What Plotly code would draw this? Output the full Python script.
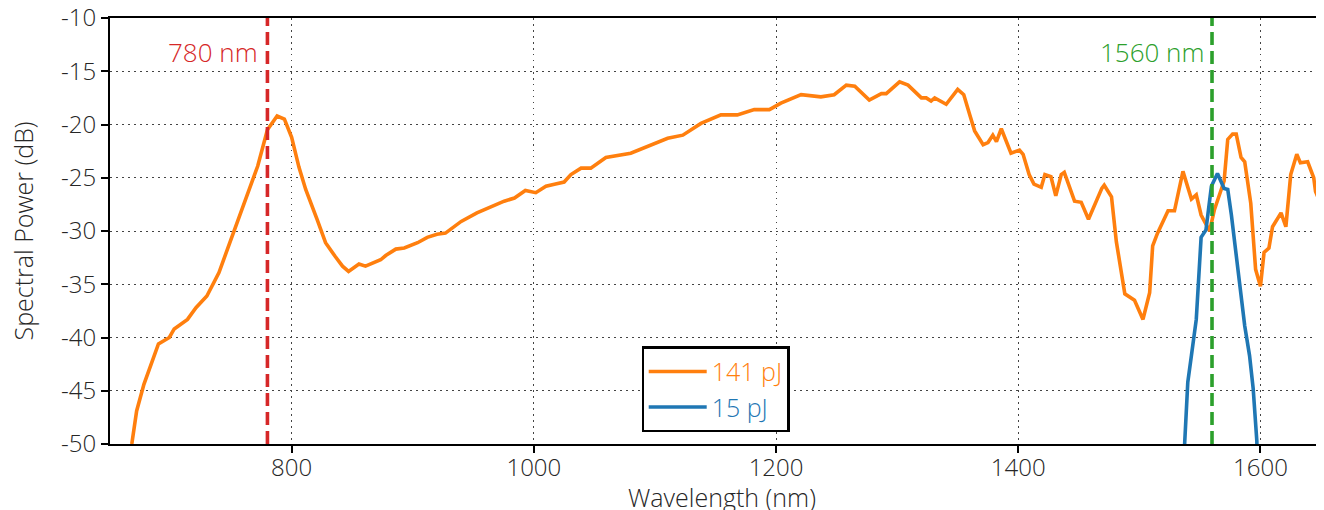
import plotly.graph_objects as go

# Orange: 141 pJ
wl_141 = [668, 672, 678, 686, 690, 699, 703, 714, 721, 730, 740, 747, 755, 763, 772, 780, 788, 794,
          800, 806, 811.6, 821, 828, 836, 842, 847, 855.6, 861, 865, 873.5, 877.7, 886, 893, 904, 912,
          920, 927, 940, 953, 964.5, 975.5, 984, 993, 1001.6, 1010, 1017, 1025, 1030.6, 1039, 1047,
          1059.5, 1080, 1097, 1110.5, 1123, 1138, 1154.5, 1168, 1182, 1194.5, 1204, 1220.7, 1237, 1248,
          1258, 1265, 1277, 1287, 1291, 1302, 1309, 1320, 1324, 1328, 1331, 1340.5, 1350, 1355, 1360,
          1364, 1371, 1375, 1379, 1382, 1386, 1394, 1401, 1404, 1409, 1413, 1419, 1422, 1427, 1431,
          1435.5, 1438, 1446.5, 1452, 1458, 1464, 1469, 1471, 1477, 1481, 1488, 1496, 1499, 1503,
          1508.5, 1511, 1515, 1523.7, 1529, 1536, 1543, 1547, 1551, 1558, 1562, 1570, 1573, 1577,
          1580, 1584, 1587, 1592, 1596, 1600, 1603, 1607, 1610, 1617, 1621, 1625, 1630, 1633, 1639,
          1644, 1645.5, 1650]
p_141 = [-50.0, -46.9, -44.4, -41.9, -40.6, -40.0, -39.2, -38.3, -37.2, -36.1, -33.9, -31.7, -29.2,
         -26.7, -23.9, -20.5, -19.2, -19.5, -21.2, -24.0, -26.1, -28.9, -31.1, -32.4, -33.3, -33.8,
         -33.1, -33.3, -33.1, -32.7, -32.3, -31.7, -31.6, -31.1, -30.6, -30.3, -30.2, -29.1, -28.3,
         -27.7, -27.2, -26.9, -26.2, -26.4, -25.8, -25.6, -25.4, -24.7, -24.1, -24.1, -23.1, -22.7,
         -21.9, -21.3, -21.0, -19.9, -19.1, -19.1, -18.6, -18.6, -18.0, -17.2, -17.4, -17.2, -16.3,
         -16.4, -17.7, -17.1, -17.1, -16.0, -16.3, -17.5, -17.5, -17.8, -17.5, -18.1, -16.7, -17.2,
         -19.1, -20.6, -21.9, -21.7, -21.0, -21.6, -20.4, -22.7, -22.4, -22.8, -24.7, -25.6, -25.9,
         -24.7, -24.9, -26.7, -24.7, -24.5, -27.2, -27.3, -28.9, -27.3, -26.0, -25.7, -26.8, -31.0,
         -35.9, -36.5, -37.2, -38.3, -35.8, -31.4, -30.2, -28.1, -28.1, -24.4, -27.0, -26.6, -28.5,
         -30.0, -28.0, -25.3, -21.4, -20.9, -20.9, -23.1, -23.5, -27.4, -33.6, -35.2, -32.0, -31.6,
         -29.6, -28.3, -29.6, -24.7, -22.8, -23.6, -23.5, -25.0, -26.3, -27.5]

# Blue: 15 pJ
wl_15 = [1536.5, 1537.5, 1540, 1543, 1547, 1551, 1555, 1559.5, 1564.5, 1570, 1573, 1576, 1581.6,
         1587, 1591, 1594, 1597, 1597.5]
p_15 = [-52, -49.7, -44.2, -41.7, -38.3, -30.6, -29.9, -25.8, -24.6, -26.0, -26.1, -28.5, -33.9,
        -38.9, -41.7, -44.8, -49.7, -52]

series_names = ["141 pJ", "15 pJ"]
marker_wl = [780, 1560]
marker_labels = ["780 nm", "1560 nm"]
y_ticks = [-10, -15, -20, -25, -30, -35, -40, -45, -50]
y_ticktext = ["-10", "-15", "-20", "-25", "-30", "-35", "-40", "-45", "-50"]
x_ticks = [800, 1000, 1200, 1400, 1600]
x_title = "Wavelength (nm)"
y_title = "Spectral Power (dB)"

ORANGE = "#ff7f0e"
BLUE = "#1f77b4"
RED = "#d62728"
GREEN = "#2ca02c"
FONT = "Open Sans"
TXT = "#262626"

fig = go.Figure()
fig.add_trace(go.Scatter(x=wl_141, y=p_141, mode="lines",
                         name=f"<span style='color:{ORANGE}'>{series_names[0]}</span>",
                         line=dict(color=ORANGE, width=3.6)))
fig.add_trace(go.Scatter(x=wl_15, y=p_15, mode="lines",
                         name=f"<span style='color:{BLUE}'>{series_names[1]}</span>",
                         line=dict(color=BLUE, width=3.6)))

for wl, lab, col, shift in zip(marker_wl, marker_labels, [RED, GREEN], [-7, -6]):
    fig.add_shape(type="line", x0=wl, x1=wl, y0=0, y1=1, xref="x", yref="paper",
                  line=dict(color=col, width=3.6, dash="13px,6px"), layer="above")
    fig.add_annotation(x=wl, y=-13.2, text=lab, showarrow=False, xanchor="right",
                       xshift=shift, font=dict(color=col, size=26, family=FONT, weight=300))

# axis titles as paper-anchored annotations
fig.add_annotation(x=0.505, y=0, xref="paper", yref="paper", text=x_title, showarrow=False,
                   xanchor="center", yanchor="middle", yshift=-53, borderpad=0,
                   font=dict(family=FONT, size=25, color=TXT, weight=300))
fig.add_annotation(x=0, y=0.499, xref="paper", yref="paper", text=y_title, showarrow=False,
                   xanchor="center", yanchor="middle", xshift=-87, textangle=-90, borderpad=0,
                   font=dict(family=FONT, size=25, color=TXT, weight=300))

axis_common = dict(showline=True, linecolor="black", linewidth=2.2, mirror=True,
                   ticks="outside", ticklen=7, tickwidth=2, tickcolor="black",
                   showgrid=True, gridcolor="#444444", gridwidth=1.3, griddash="1.5px,4.5px",
                   zeroline=False, automargin=False, ticklabeloverflow="allow",
                   tickfont=dict(family=FONT, size=24, color=TXT, weight=300))

fig.update_xaxes(range=[650, 1650], tickvals=x_ticks, ticklabelstandoff=-6, **axis_common)
fig.update_yaxes(range=[-50, -10], tickvals=y_ticks, ticktext=y_ticktext, **axis_common)

fig.update_layout(
    width=1324, height=510,
    margin=dict(l=102, r=11, t=10, b=74),
    plot_bgcolor="white", paper_bgcolor="white",
    font=dict(family=FONT, weight=300),
    legend=dict(x=0.5, y=0.027, xanchor="center", yanchor="bottom",
                bgcolor="white", bordercolor="black", borderwidth=2.2,
                font=dict(family=FONT, size=25, weight=300), itemwidth=58,
                tracegroupgap=0),
    showlegend=True,
)

fig.write_html("out.html")
